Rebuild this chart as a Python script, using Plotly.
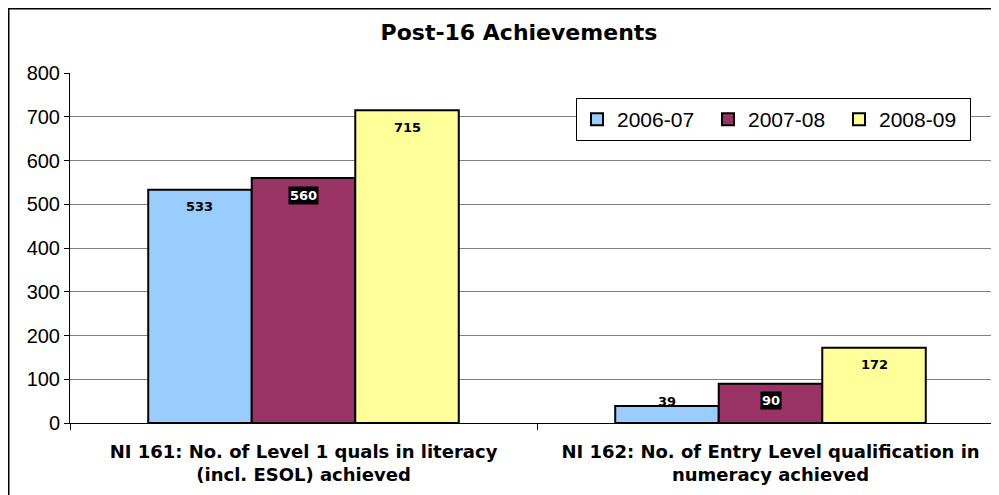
import plotly.graph_objects as go

categories = ['NI 161: No. of Level 1 quals in literacy<br>(incl. ESOL) achieved',
              'NI 162: No. of Entry Level qualification in<br>numeracy achieved']
years = ['2006-07', '2007-08', '2008-09']
values_2006 = [533, 39]
values_2007 = [560, 90]
values_2008 = [715, 172]
colors = ['#99CCFF', '#993366', '#FFFF99']

# the page puts the figure 8px in from the top-left corner, so pixel positions below are figure coords
W, H = 999, 495
L, R, T, B = 62, 3, 65, 80
PLOT_W, PLOT_H = W - L - R, H - T - B
Y_MAX = 800
BARGAP = 0.335

fig = go.Figure()
series = [values_2006, values_2007, values_2008]
for name, vals, col in zip(years, series, colors):
    fig.add_trace(go.Bar(x=categories, y=vals, name=name,
                         marker=dict(color=col, line=dict(color='black', width=2))))

# value labels just inside the top of each bar; the 2007-08 ones sit on a black box
bar_w = PLOT_W / len(categories) * (1 - BARGAP) / 3
for i, (vals, col) in enumerate(zip(series, colors)):
    for cat, v in zip(categories, vals):
        bar_px = v / Y_MAX * PLOT_H
        dark = col == '#993366'
        fig.add_annotation(x=cat, y=v, xref='x', yref='y', xshift=(i - 1) * bar_w,
                           yshift=-17 if bar_px > 30 else 4, yanchor='middle',
                           text='<b>%d</b>' % v, showarrow=False,
                           font=dict(family='DejaVu Sans', size=13, color='white' if dark else 'black'),
                           bgcolor='black' if dark else None, borderpad=1)

# outer chart frame (only its top and left edges fall inside the window)
fig.add_shape(type='rect', xref='paper', yref='paper',
              x0=(0.75 - L) / PLOT_W, x1=1 + (R + 20) / PLOT_W,
              y0=-(B + 20) / PLOT_H, y1=1 + (T - 0.75) / PLOT_H,
              line=dict(color='black', width=1.5), layer='below')

fig.update_layout(
    width=W, height=H, margin=dict(l=L, r=R, t=T, b=B),
    paper_bgcolor='white', plot_bgcolor='white',
    barmode='group', bargap=BARGAP, bargroupgap=0,
    font=dict(family='Arial, Liberation Sans', size=20, color='black'),
    title=dict(text='<b>Post-16 Achievements</b>', x=511 / W, xanchor='center',
               y=1 - 24 / H, yanchor='middle', font=dict(family='DejaVu Sans', size=22)),
    legend=dict(orientation='h', x=(568 - L) / PLOT_W, y=1 - (90 - T) / PLOT_H,
                xanchor='left', yanchor='top', bordercolor='black', borderwidth=1, bgcolor='white',
                font=dict(size=21), entrywidth=86, entrywidthmode='pixels',
                itemsizing='constant'),
    showlegend=True,
)
fig.update_yaxes(range=[0, Y_MAX], dtick=100, showgrid=True, gridcolor='#808080', gridwidth=1,
                 showline=True, linecolor='black', linewidth=1, ticks='outside', ticklen=5,
                 tickcolor='black', tickfont=dict(size=20), zeroline=False)
fig.update_xaxes(showline=True, linecolor='black', linewidth=1, ticks='outside', tickson='boundaries',
                 ticklen=6, tickcolor='black', ticklabelstandoff=12,
                 tickfont=dict(size=18, family='DejaVu Sans', weight='bold'))

fig.write_html('out.html')
